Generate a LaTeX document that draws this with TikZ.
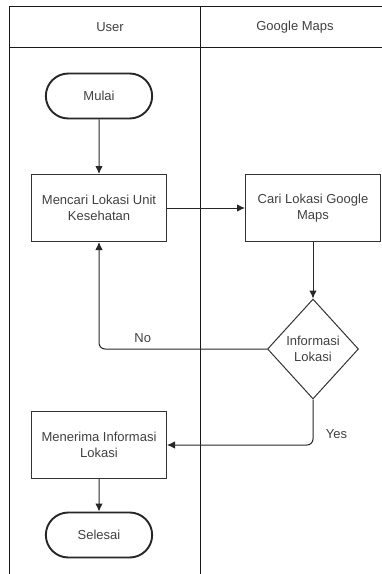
\documentclass[tikz,border=0pt]{standalone}
\usepackage{fontspec}
\setmainfont{Liberation Sans}
\usepackage{xcolor}
\usepackage{tikz}
\usetikzlibrary{arrows.meta,positioning,shapes.geometric,shapes.misc}

\begin{document}
\begin{tikzpicture}[
    x = 1pt, y = -1pt,
    every node/.style={
        text = black!75, %text colour
        font = \fontsize{13}{16}\selectfont
      },
    lane/.style={
        line width = 1pt,
        draw = black!90
      },
    terminal/.style={
        rounded rectangle, % shape
        minimum width = 113pt, minimum height = 45pt, %size
        line width = 1.9pt, %border
        draw = black!85
      },
    process/.style={
        rectangle,
        minimum width = 135pt, minimum height = 67pt,
        line width = 1pt,
        draw = black!80,
        align = center
      },
    decision/.style={
        diamond,
        minimum width = 91pt, minimum height = 100pt,
        inner sep = 0pt,
        line width = 1pt,
        draw = black!80,
        align = center
      },
    flow/.style={
        line width = 1pt,
        draw = black!85,
        -{Latex[length=8pt,width=7.5pt]}
      }]
  \useasboundingbox (0,0) rectangle (382,574);
  % swimlanes
  \draw[lane] (382,6) -- (9,6) -- (9,574);
  \draw[lane] (9,47) -- (382,47);
  \draw[lane] (200,6) -- (200,574);
  \node (userlane) at (110,27) {User};
  \node (mapslane) at (295,27) {Google Maps};
  % steps
  \node [terminal] (mulai) at (99,96) {Mulai};
  \node [process] (mencari) at (99,208) {Mencari Lokasi Unit\\Kesehatan};
  \node [process] (cari) at (313,208) {Cari Lokasi Google\\Maps};
  \node [decision] (info) at (313,349) {Informasi\\Lokasi};
  \node [process] (menerima) at (99,445) {Menerima Informasi\\Lokasi};
  \node [terminal] (selesai) at (99,535) {Selesai};
  % arrows
  \draw[flow] (mulai) -- (mencari);
  \draw[flow] (mencari) -- (cari);
  \draw[flow] (cari) -- (info);
  \draw[flow, rounded corners=6pt] (info.west) -| node[pos=0.37, above=3pt] {No} (mencari.south);
  \draw[flow, rounded corners=6pt] (info.south) |- node[pos=0.38, right=9pt] {Yes} (menerima.east);
  \draw[flow] (menerima) -- (selesai);
\end{tikzpicture}
\end{document}
